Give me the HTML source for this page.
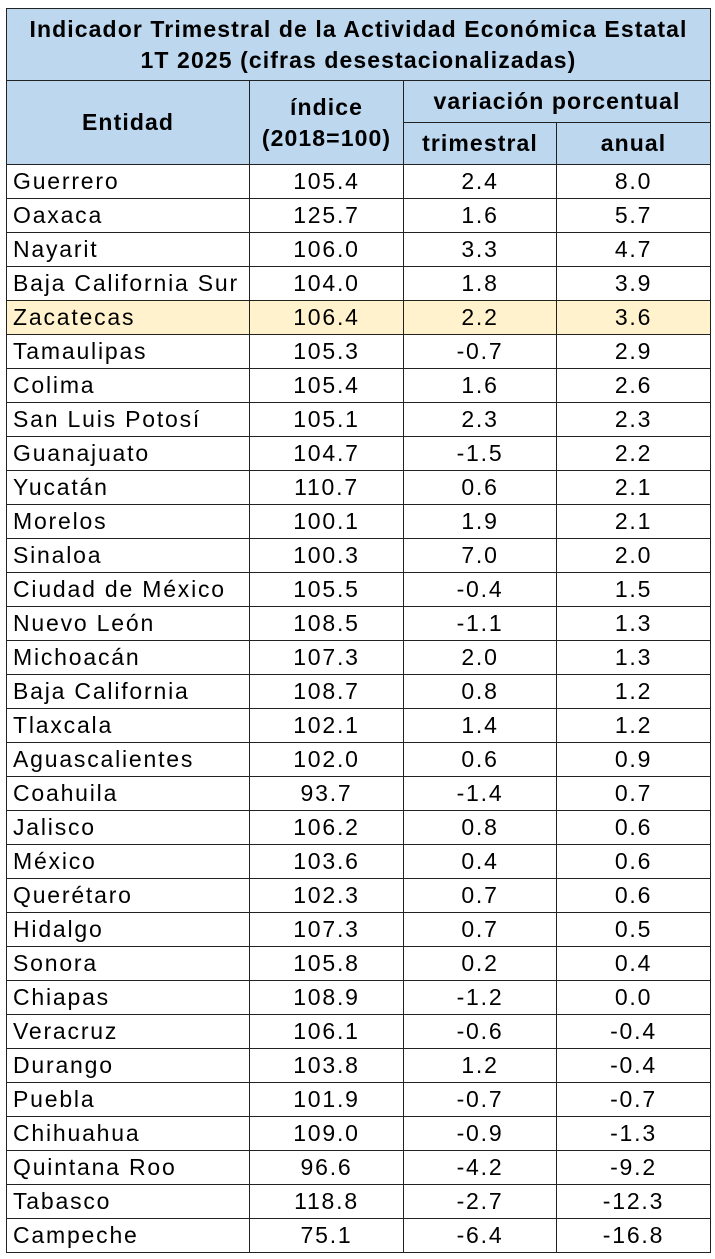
<!DOCTYPE html>
<html><head><meta charset="utf-8">
<style>
body{margin:0;width:715px;height:1259px;background:#fff;position:relative;font-family:"Liberation Sans",sans-serif;color:#000;overflow:hidden}
.c{position:absolute;box-sizing:border-box;border:1px solid #222;display:flex;align-items:center;justify-content:center;font-size:23px;letter-spacing:1.8px;white-space:nowrap}
.h{background:#BDD7EE;font-weight:bold;font-size:23px;letter-spacing:1.1px;text-align:center;line-height:31px}
.l{justify-content:flex-start;padding-left:6px}
</style></head><body>
<div id="t"></div>
<script>
const names=["Guerrero","Oaxaca","Nayarit","Baja California Sur","Zacatecas","Tamaulipas","Colima","San Luis Potosí","Guanajuato","Yucatán","Morelos","Sinaloa","Ciudad de México","Nuevo León","Michoacán","Baja California","Tlaxcala","Aguascalientes","Coahuila","Jalisco","México","Querétaro","Hidalgo","Sonora","Chiapas","Veracruz","Durango","Puebla","Chihuahua","Quintana Roo","Tabasco","Campeche"];
const indice=["105.4","125.7","106.0","104.0","106.4","105.3","105.4","105.1","104.7","110.7","100.1","100.3","105.5","108.5","107.3","108.7","102.1","102.0","93.7","106.2","103.6","102.3","107.3","105.8","108.9","106.1","103.8","101.9","109.0","96.6","118.8","75.1"];
const trim=["2.4","1.6","3.3","1.8","2.2","-0.7","1.6","2.3","-1.5","0.6","1.9","7.0","-0.4","-1.1","2.0","0.8","1.4","0.6","-1.4","0.8","0.4","0.7","0.7","0.2","-1.2","-0.6","1.2","-0.7","-0.9","-4.2","-2.7","-6.4"];
const anual=["8.0","5.7","4.7","3.9","3.6","2.9","2.6","2.3","2.2","2.1","2.1","2.0","1.5","1.3","1.3","1.2","1.2","0.9","0.7","0.6","0.6","0.6","0.5","0.4","0.0","-0.4","-0.4","-0.7","-1.3","-9.2","-12.3","-16.8"];
const t=document.getElementById('t');
const X=[6,249,403,556,710];
function cell(x,y,w,h,html,cls,name){
  const d=document.createElement('div');
  d.className='c '+(cls||'');
  d.style.left=x+'px';d.style.top=y+'px';d.style.width=(w+1)+'px';d.style.height=(h+1)+'px';
  d.innerHTML=html;
  
  
  t.appendChild(d);return d;
}
cell(6,8,704,73,'Indicador Trimestral de la Actividad Económica Estatal<br>1T 2025 (cifras desestacionalizadas)','h','table-title');
cell(X[0],80,X[1]-X[0],84,'Entidad','h','entidad-header');
cell(X[1],80,X[2]-X[1],84,'índice<br>(2018=100)','h','indice-header');
cell(X[2],80,X[4]-X[2],42,'variación porcentual','h','variacion-header');
cell(X[2],122,X[3]-X[2],42,'trimestral','h','trimestral-header');
cell(X[3],122,X[4]-X[3],42,'anual','h','anual-header');
const rh=34;
names.forEach((n,i)=>{
  const y=164+i*rh;
  const hl=n==="Zacatecas";
  const cols=[n,indice[i],trim[i],anual[i]];
  const nm=['entity-name','indice-value','trimestral-value','anual-value'];
  cols.forEach((v,j)=>{
    const d=cell(X[j],y,X[j+1]-X[j],rh,v,j===0?'l':'',nm[j]);
    if(hl)d.style.background='#FFF2CC';
  });
});
</script>
</body></html>
